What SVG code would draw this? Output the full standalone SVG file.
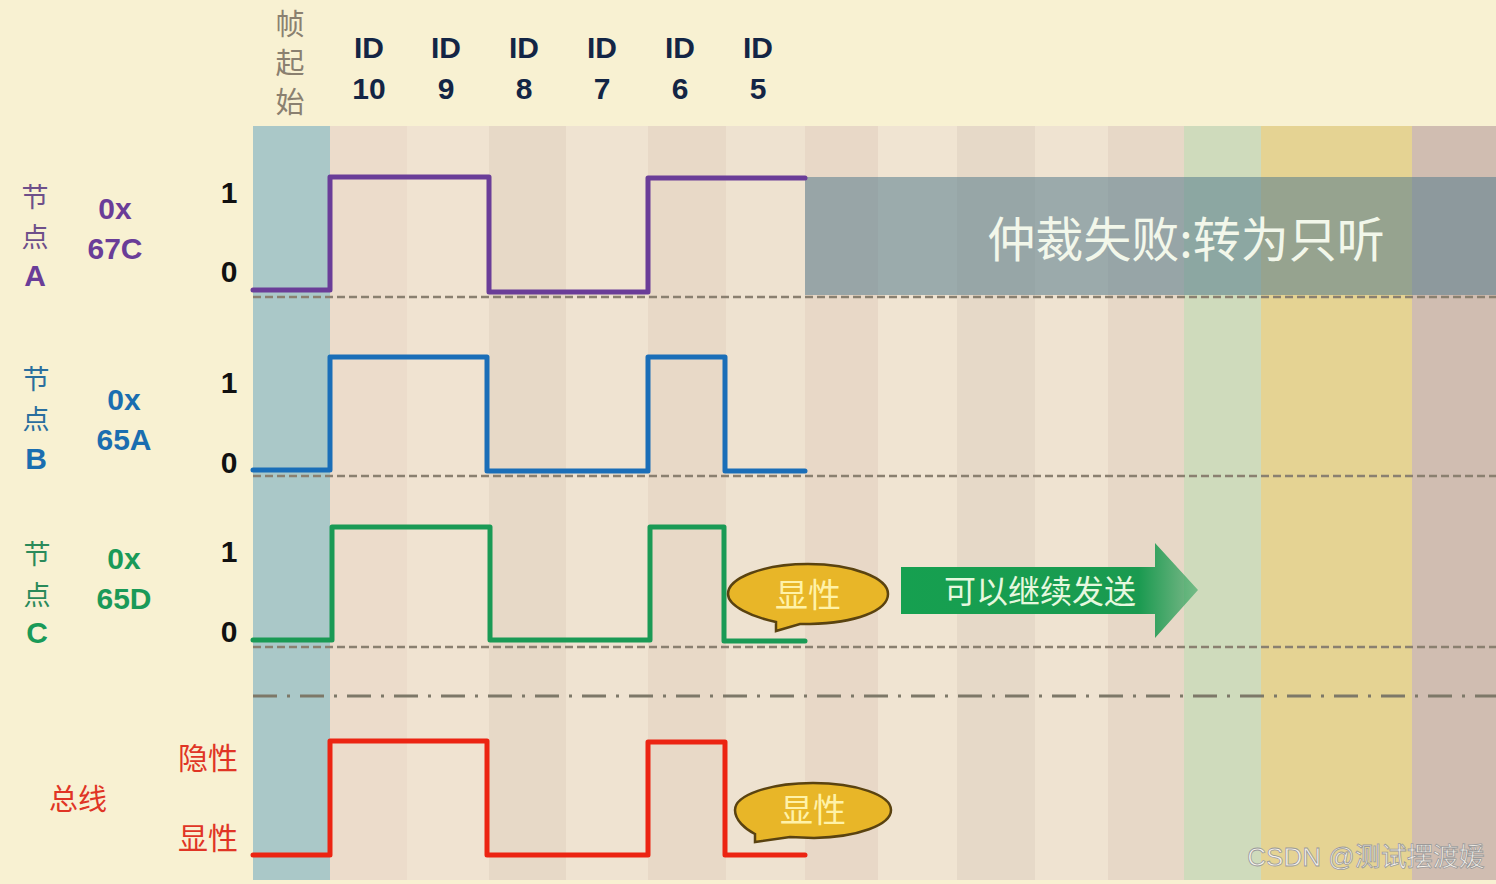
<svg xmlns="http://www.w3.org/2000/svg" width="1496" height="884" viewBox="0 0 1496 884">
<defs>
<style>
.lbl{font-family:"Liberation Sans",Arial,sans-serif;font-weight:bold;font-size:30px;text-anchor:middle}
.cjk{font-family:"Noto Sans CJK SC",sans-serif;text-anchor:middle}
.wave{fill:none;stroke-width:5;stroke-linejoin:round;stroke-linecap:round}
.dash{stroke:#8a8070;stroke-width:2.5;stroke-dasharray:8 4;fill:none}
.bubble{fill:#e8b628;stroke:#5a4310;stroke-width:2.5}
</style>
<linearGradient id="arrowGrad" x1="0" y1="0" x2="1" y2="0">
<stop offset="0" stop-color="#16a050"/>
<stop offset="0.8" stop-color="#1a9a50"/>
<stop offset="1" stop-color="#1a9a50" stop-opacity="0.5"/>
</linearGradient>
</defs>
<rect x="0" y="0" width="1496" height="884" fill="#f8f1d2"/>
<g id="columns">
<rect x="253" y="126" width="77" height="754" fill="#aac8c8"/>
<rect x="330" y="126" width="77" height="754" fill="#ecdccb"/>
<rect x="407" y="126" width="82" height="754" fill="#f0e3d1"/>
<rect x="489" y="126" width="77" height="754" fill="#e7d9c7"/>
<rect x="566" y="126" width="82" height="754" fill="#efe3d1"/>
<rect x="648" y="126" width="78" height="754" fill="#e8d9c7"/>
<rect x="726" y="126" width="79" height="754" fill="#eee2d0"/>
<rect x="805" y="126" width="73" height="754" fill="#e8d8c7"/>
<rect x="878" y="126" width="79" height="754" fill="#f0e4d2"/>
<rect x="957" y="126" width="78" height="754" fill="#e6d9c8"/>
<rect x="1035" y="126" width="73" height="754" fill="#efe3d1"/>
<rect x="1108" y="126" width="76" height="754" fill="#e7d8c7"/>
<rect x="1184" y="126" width="77" height="754" fill="#cfdbbc"/>
<rect x="1261" y="126" width="151" height="754" fill="#e5d393"/>
<rect x="1412" y="126" width="84" height="754" fill="#d0bdb1"/>
</g>
<g id="header">
<text class="cjk" x="290" y="35" font-size="29" fill="#8a8070">帧</text>
<text class="cjk" x="290" y="74" font-size="29" fill="#8a8070">起</text>
<text class="cjk" x="290" y="113" font-size="29" fill="#8a8070">始</text>
<text class="lbl" x="369" y="58" fill="#132545">ID</text><text class="lbl" x="369" y="99" fill="#132545">10</text>
<text class="lbl" x="446" y="58" fill="#132545">ID</text><text class="lbl" x="446" y="99" fill="#132545">9</text>
<text class="lbl" x="524" y="58" fill="#132545">ID</text><text class="lbl" x="524" y="99" fill="#132545">8</text>
<text class="lbl" x="602" y="58" fill="#132545">ID</text><text class="lbl" x="602" y="99" fill="#132545">7</text>
<text class="lbl" x="680" y="58" fill="#132545">ID</text><text class="lbl" x="680" y="99" fill="#132545">6</text>
<text class="lbl" x="758" y="58" fill="#132545">ID</text><text class="lbl" x="758" y="99" fill="#132545">5</text>
</g>
<g id="gridlines">
<line class="dash" x1="253" y1="297" x2="1496" y2="297"/>
<line class="dash" x1="253" y1="476" x2="1496" y2="476"/>
<line class="dash" x1="253" y1="647" x2="1496" y2="647"/>
<line x1="253" y1="696" x2="1496" y2="696" stroke="#7d7868" stroke-width="3" stroke-dasharray="24 10 3 10"/>
</g>
<g id="banner">
<rect x="805" y="177" width="691" height="118" fill="#557c8c" fill-opacity="0.55"/>
<text class="cjk" x="1186" y="257" font-size="48" fill="#f2f7ea">仲裁失败:转为只听</text>
</g>
<g id="nodeA">
<text class="cjk" x="35" y="207" font-size="27" fill="#6e4f8a">节</text>
<text class="cjk" x="35" y="247" font-size="27" fill="#6e4f8a">点</text>
<text class="lbl" x="35" y="286" fill="#6a3d98">A</text>
<text class="lbl" x="115" y="219" fill="#6a3d98">0x</text>
<text class="lbl" x="115" y="259" fill="#6a3d98">67C</text>
<text class="lbl" x="229" y="203" fill="#111">1</text>
<text class="lbl" x="229" y="282" fill="#111">0</text>
<polyline class="wave" stroke="#6a3d98" points="253,290 330,290 330,177 489,177 489,292 648,292 648,178 805,178"/>
</g>
<g id="nodeB">
<text class="cjk" x="36" y="389" font-size="27" fill="#2a6e9e">节</text>
<text class="cjk" x="36" y="429" font-size="27" fill="#2a6e9e">点</text>
<text class="lbl" x="36" y="469" fill="#1a6eb0">B</text>
<text class="lbl" x="124" y="410" fill="#1a6eb0">0x</text>
<text class="lbl" x="124" y="450" fill="#1a6eb0">65A</text>
<text class="lbl" x="229" y="393" fill="#111">1</text>
<text class="lbl" x="229" y="473" fill="#111">0</text>
<polyline class="wave" stroke="#1a6eb8" points="253,470 330,470 330,357 487,357 487,471 648,471 648,357 725,357 725,471 805,471"/>
</g>
<g id="nodeC">
<text class="cjk" x="37" y="564" font-size="27" fill="#2a8a5a">节</text>
<text class="cjk" x="37" y="605" font-size="27" fill="#2a8a5a">点</text>
<text class="lbl" x="37" y="643" fill="#1a9a58">C</text>
<text class="lbl" x="124" y="569" fill="#1a9a58">0x</text>
<text class="lbl" x="124" y="609" fill="#1a9a58">65D</text>
<text class="lbl" x="229" y="562" fill="#111">1</text>
<text class="lbl" x="229" y="642" fill="#111">0</text>
<polyline class="wave" stroke="#1a9a55" points="253,640 332,640 332,527 490,527 490,640 650,640 650,527 724,527 724,641 805,641"/>
</g>
<g id="bus">
<text class="cjk" x="78" y="810" font-size="29" fill="#e03525">总线</text>
<text class="cjk" x="208" y="769" font-size="30" fill="#e03525">隐性</text>
<text class="cjk" x="208" y="849" font-size="30" fill="#e03525">显性</text>
<polyline class="wave" stroke="#ec2412" points="253,855 330,855 330,741 487,741 487,855 648,855 648,742 725,742 725,855 805,855"/>
</g>
<g id="bubbleC">
<path class="bubble" d="M776,622 C752,617 728,606 728,594 C728,578 763,564 808,564 C853,564 888,578 888,594 C888,611 855,623 810,624 L800,624 L776,631 Z"/>
<text class="cjk" x="808" y="607" font-size="33" fill="#fff2a8">显性</text>
</g>
<g id="bubbleBus">
<path class="bubble" d="M755,834 C745,829 735,820 735,810 C735,795 770,783 813,783 C856,783 891,795 891,810 C891,825 858,837 814,838 L790,837 L755,842 Z"/>
<text class="cjk" x="813" y="822" font-size="33" fill="#fff2a8">显性</text>
</g>
<g id="continueArrow">
<path d="M901,567 L1155,567 L1155,543 L1198,590 L1155,638 L1155,614 L901,614 Z" fill="url(#arrowGrad)"/>
<text class="cjk" x="1040" y="603" font-size="32" fill="#e6f8de">可以继续发送</text>
</g>
<text x="1366" y="866" font-family="'Liberation Sans','Noto Sans CJK SC',sans-serif" font-size="26" text-anchor="middle" fill="#f6f2ec" stroke="#9a9a9a" stroke-width="0.8">CSDN @测试摆渡媛</text>
</svg>
